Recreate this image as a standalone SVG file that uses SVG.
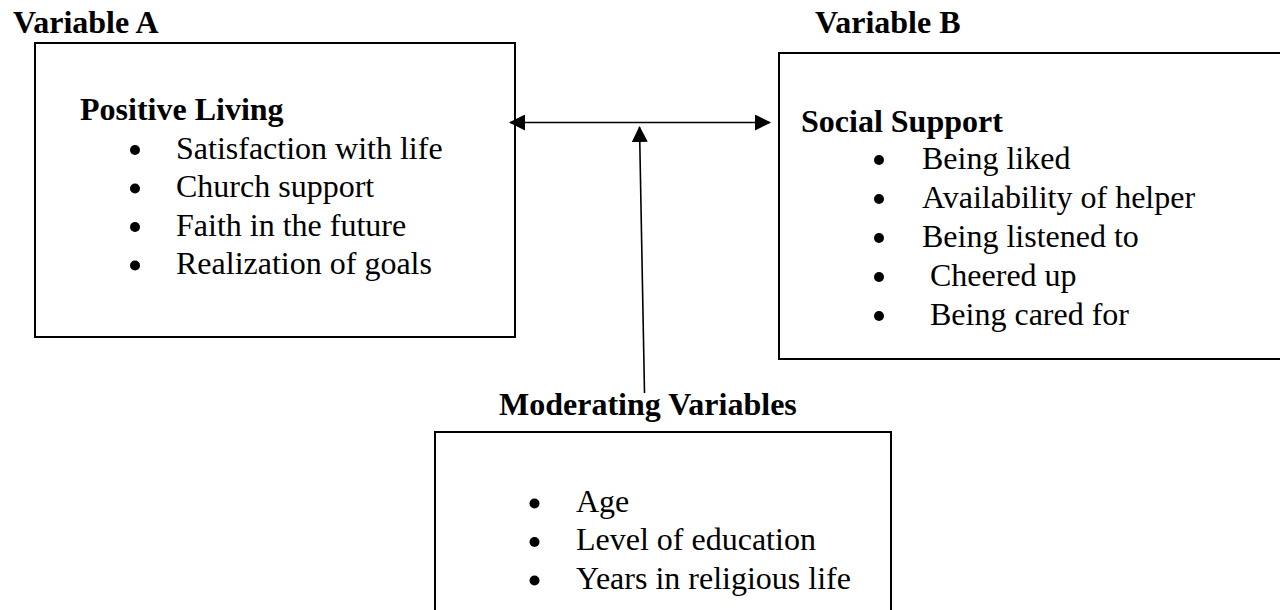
<svg xmlns="http://www.w3.org/2000/svg" width="1280" height="610" viewBox="0 0 1280 610">
<style>
text{font-family:"Liberation Serif","Times New Roman",serif;font-size:32px;fill:#000}
.b{font-weight:bold}
.box{fill:none;stroke:#000;stroke-width:2}
.dot{fill:#000}
.conn{stroke:#000;stroke-width:1.6;fill:none}
</style>
<defs>
<marker id="ah" viewBox="0 0 16 16" refX="15" refY="8" markerWidth="16" markerHeight="16" markerUnits="userSpaceOnUse" orient="auto-start-reverse">
<path d="M0,0 L16,8 L0,16 Z" fill="#000"/>
</marker>
</defs>
<rect width="1280" height="610" fill="#fff"/>
<g id="variableA">
<text class="b" x="13" y="33">Variable A</text>
<rect class="box" x="35" y="43" width="480" height="294"/>
<text class="b" x="80" y="120">Positive Living</text>
<circle class="dot" cx="135" cy="150" r="5"/><text x="176" y="158.5">Satisfaction with life</text>
<circle class="dot" cx="135" cy="188.5" r="5"/><text x="176" y="197">Church support</text>
<circle class="dot" cx="135" cy="227" r="5"/><text x="176" y="235.5">Faith in the future</text>
<circle class="dot" cx="135" cy="265.5" r="5"/><text x="176" y="274">Realization of goals</text>
</g>
<g id="variableB">
<text class="b" x="815" y="33">Variable B</text>
<rect class="box" x="779" y="53" width="510" height="306"/>
<text class="b" x="801" y="132">Social Support</text>
<circle class="dot" cx="879" cy="160" r="5"/><text x="922" y="168.5">Being liked</text>
<circle class="dot" cx="879" cy="199" r="5"/><text x="922" y="207.5">Availability of helper</text>
<circle class="dot" cx="879" cy="238" r="5"/><text x="922" y="246.5">Being listened to</text>
<circle class="dot" cx="879" cy="277" r="5"/><text x="930" y="285.5">Cheered up</text>
<circle class="dot" cx="879" cy="316" r="5"/><text x="930" y="324.5">Being cared for</text>
</g>
<g id="moderating">
<text class="b" x="499" y="415">Moderating Variables</text>
<rect class="box" x="435" y="432" width="456" height="190"/>
<circle class="dot" cx="534.5" cy="503.5" r="5"/><text x="576" y="511.5">Age</text>
<circle class="dot" cx="534.5" cy="542" r="5"/><text x="576" y="550">Level of education</text>
<circle class="dot" cx="534.5" cy="580.5" r="5"/><text x="576" y="589">Years in religious life</text>
</g>
<g id="connectors">
<line class="conn" x1="510" y1="122.5" x2="770" y2="122.5" marker-start="url(#ah)" marker-end="url(#ah)"/>
<line class="conn" x1="644.5" y1="393" x2="639.5" y2="127" marker-end="url(#ah)"/>
</g>
</svg>
